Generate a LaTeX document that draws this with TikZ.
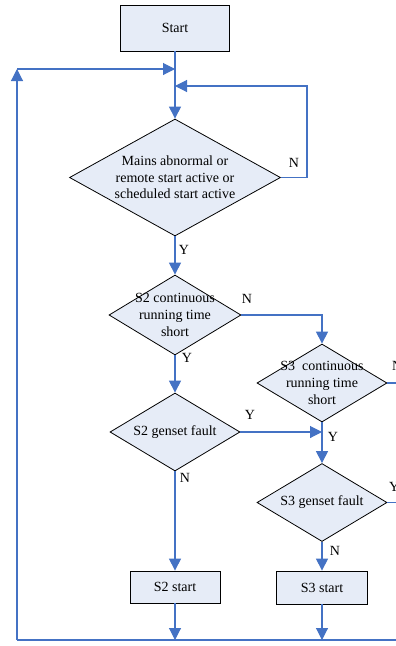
\documentclass[tikz,border=0pt]{standalone}
\usepackage{fontspec}
\setmainfont{Liberation Serif}
\usepackage{tikz}
\usetikzlibrary{arrows.meta,shapes.geometric}
\definecolor{flowblue}{HTML}{4472C4}
\definecolor{boxfill}{HTML}{E6ECF7}
\tikzset{
  flow/.style={draw=flowblue, line width=1.1pt, -{Triangle[width=12pt,length=12pt]}},
  wire/.style={draw=flowblue, line width=1.1pt},
  proc/.style={rectangle, draw=black, fill=boxfill, line width=0.8pt},
  dia/.style={diamond, draw=black, fill=boxfill, line width=0.8pt, inner sep=0pt},
  txt/.style={align=center, font=\fontsize{14}{16.7}\selectfont},
  yn/.style={font=\fontsize{14}{16}\selectfont, inner sep=0pt}
}

\begin{document}
\begin{tikzpicture}[x=1pt, y=-1pt]
  \useasboundingbox (0,0) rectangle (396,646);

  \node[proc, minimum width=109pt, minimum height=46pt] (start) at (175,28) {};
  \node[txt] (startt) at (start) {Start};

  \node[dia, minimum width=211pt, minimum height=117pt] (d1) at (175,177.5) {};
  \node[txt] (d1t) at (d1) {Mains abnormal or\\remote start active or\\scheduled start active};

  \node[dia, minimum width=132pt, minimum height=80pt] (d2) at (175,315) {};
  \node[txt] (d2t) at (d2) {S2 continuous\\running time\\short};

  \node[dia, minimum width=130pt, minimum height=78pt] (d3) at (322,383) {};
  \node[txt] (d3t) at (d3) {S3\ \ continuous\\running time\\short};

  \node[dia, minimum width=130pt, minimum height=78pt] (d4) at (175,432) {};
  \node[txt] (d4t) at (d4) {S2 genset fault};

  \node[dia, minimum width=130pt, minimum height=78pt] (d5) at (322,502.5) {};
  \node[txt] (d5t) at (d5) {S3 genset fault};

  \node[proc, minimum width=90pt, minimum height=32pt] (s2) at (175,587) {};
  \node[txt] (s2t) at (s2) {S2 start};
  \node[proc, minimum width=91pt, minimum height=33pt] (s3) at (322,587.5) {};
  \node[txt] (s3t) at (s3) {S3 start};

  \coordinate (bl) at (17,640);
  \coordinate (br) at (396,640);
  \coordinate (tl) at (17,69);
  \coordinate (nloop) at (307,86);
  \coordinate (d3out) at (396,383);
  \coordinate (d5out) at (396,502.5);

  \draw[flow] (start) -- (d1);
  \draw[flow] (bl) -- (tl);
  \draw[flow] (tl) -- (start.south |- tl);
  \draw[flow] (d1.east) -| (nloop) -- (start.south |- nloop);
  \draw[flow] (d1) -- (d2);
  \draw[flow] (d2.east) -| (d3.north);
  \draw[flow] (d2) -- (d4);
  \draw[flow] (d4.east) -- (d3.south |- d4.east);
  \draw[flow] (d3) -- (d5);
  \draw[wire] (d3.east) -- (d3out);
  \draw[wire] (d5.east) -- (d5out);
  \draw[flow] (d4) -- (s2);
  \draw[flow] (d5) -- (s3);
  \draw[flow] (s2.south) -- (s2.south |- bl);
  \draw[flow] (s3.south) -- (s3.south |- bl);
  \draw[wire] (bl) -- (br);

  \node[yn] (n1) at (294,163) {N};
  \node[yn] (y1) at (184,250) {Y};
  \node[yn] (n2) at (247,299) {N};
  \node[yn] (y2) at (187,358) {Y};
  \node[yn] (y4) at (250,415) {Y};
  \node[yn] (y3) at (333,437) {Y};
  \node[yn] (n4) at (185,478) {N};
  \node[yn] (n5) at (335,551) {N};
  \node[yn, anchor=west] (n3) at (392,366) {N};
  \node[yn, anchor=west] (y5) at (389,487) {Y};
\end{tikzpicture}
\end{document}
